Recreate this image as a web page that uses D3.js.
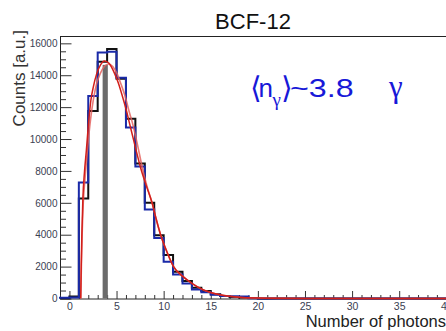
<!DOCTYPE html>
<html>
<head>
<meta charset="utf-8">
<script src="https://cdn.jsdelivr.net/npm/d3@7"></script>
<style>
  html, body { margin: 0; padding: 0; background: #fff; }
  svg { display: block; font-family: "Liberation Sans", Arial, Helvetica, sans-serif; }
</style>
</head>
<body>
<div id="chart"></div>
<script>
// bin low edges (bin width 1)
const binEdges = d3.range(-1, 40);

// black histogram
const countsBlack = [20, 130, 6270, 11750, 14840, 15640, 13780, 11270, 8470, 6000,
  3970, 2720, 1670, 1090, 680, 470, 260, 150, 90, 60,
  30, 0, 0, 0, 0, 0, 0, 0, 0, 0, 0, 0, 0, 0, 0, 0, 0, 0, 0, 0, 0];

// blue histogram
const countsBlue = [50, 60, 7280, 12690, 15430, 15470, 13840, 10730, 8270, 5580,
  3800, 2300, 1500, 940, 560, 390, 230, 150, 140, 130,
  20, 0, 0, 0, 0, 0, 0, 0, 0, 0, 0, 0, 0, 0, 0, 0, 0, 0, 0, 0, 0];

// fit curves
const fitDarkX = [1.2, 1.25, 1.32, 1.43, 1.6, 1.8, 2.0, 2.27, 2.55, 2.9, 3.3, 3.72, 4.2, 4.8, 5.2, 5.64, 6.0, 6.38, 6.99, 7.6, 8.2, 8.77, 9.2, 9.65, 10.3, 11.05, 12, 13, 14, 15, 16, 17, 18, 20, 22, 25, 30, 40];
const fitDarkY = [0, 2000, 4000, 6300, 7950, 9300, 10800, 12400, 13300, 14100, 14650, 14900, 14750, 14100, 13500, 12650, 11900, 10980, 9510, 8100, 7000, 6000, 5000, 4050, 3000, 2000, 1400, 950, 600, 380, 230, 140, 80, 30, 10, 3, 0, 0];

const fitLightX = [1.2, 1.27, 1.35, 1.47, 1.65, 1.85, 2.05, 2.3, 2.55, 2.9, 3.27, 3.7, 4.15, 4.6, 5.05, 5.5, 5.93, 6.3, 6.7, 7.27, 7.7, 8.2, 8.77, 9.2, 9.65, 10.3, 11.05, 12, 13, 14, 15, 16, 17, 18, 20, 22, 25, 30, 40];
const fitLightY = [0, 2000, 4000, 6000, 7500, 8900, 10200, 11500, 12500, 13500, 14100, 14550, 14700, 14550, 14100, 13400, 12650, 11800, 10980, 9510, 8300, 7100, 6000, 5000, 4050, 3000, 2000, 1400, 950, 600, 380, 230, 140, 80, 30, 10, 3, 0, 0];

// mean marker
const meanPhotons = 3.8;
const meanHeight = 14650;

const xMajor = [0, 5, 10, 15, 20, 25, 30, 35, 40];
const yMajor = [0, 2000, 4000, 6000, 8000, 10000, 12000, 14000, 16000];

const W = 446, H = 331;
const frame = {left: 60, top: 36, right: 446.3, bottom: 298.5};

const svg = d3.select('#chart').append('svg')
  .attr('width', W)
  .attr('height', H);

const x = d3.scaleLinear().domain([-1, 40]).range([frame.left, frame.right]);
const y = d3.scaleLinear().domain([0, 16460]).range([frame.bottom, frame.top]);

// frame
svg.append('rect')
  .attr('x', frame.left + 0.5)
  .attr('y', frame.top + 0.5)
  .attr('width', frame.right - frame.left)
  .attr('height', frame.bottom - frame.top)
  .attr('fill', 'none')
  .attr('stroke', '#222')
  .attr('stroke-width', 1);

// y axis: major + minor ticks pointing inward
const yAxis = svg.append('g')
  .attr('transform', `translate(${frame.left + 0.5},0)`)
  .call(d3.axisLeft(y).tickValues(yMajor).tickSize(-11).tickPadding(3).tickFormat(d3.format('d')));
yAxis.select('.domain').remove();
yAxis.selectAll('text').attr('font-size', 10).attr('fill', '#3a4152').attr('font-family', null);
yAxis.selectAll('line').attr('stroke', '#333');

const yMinor = svg.append('g')
  .attr('transform', `translate(${frame.left + 0.5},0)`)
  .call(d3.axisLeft(y).tickValues(d3.range(0, 16400, 500).filter(v => v % 2000 !== 0)).tickSize(-5.5).tickFormat(''));
yMinor.select('.domain').remove();
yMinor.selectAll('line').attr('stroke', '#333');

// x axis
const xAxis = svg.append('g')
  .attr('transform', `translate(0,${frame.bottom + 0.5})`)
  .call(d3.axisBottom(x).tickValues(xMajor).tickSize(-8).tickPadding(4).tickFormat(d3.format('d')));
xAxis.select('.domain').remove();
xAxis.selectAll('text').attr('font-size', 10.5).attr('fill', '#3a4152').attr('font-family', null);
xAxis.selectAll('line').attr('stroke', '#333');

const xMinor = svg.append('g')
  .attr('transform', `translate(0,${frame.bottom + 0.5})`)
  .call(d3.axisBottom(x).tickValues(d3.range(-1, 41).filter(v => v % 5 !== 0)).tickSize(-4).tickFormat(''));
xMinor.select('.domain').remove();
xMinor.selectAll('line').attr('stroke', '#333');

// step outline of a histogram
function stepPath(counts) {
  const pts = [[x(binEdges[0]), y(0)]];
  binEdges.forEach((e, i) => {
    pts.push([x(e), y(counts[i])]);
    pts.push([x(e + 1), y(counts[i])]);
  });
  pts.push([x(binEdges[binEdges.length - 1] + 1), y(0)]);
  return d3.line()(pts);
}

svg.append('path')
  .attr('d', stepPath(countsBlack))
  .attr('fill', 'none')
  .attr('stroke', '#111')
  .attr('stroke-width', 2);

svg.append('path')
  .attr('d', stepPath(countsBlue))
  .attr('fill', 'none')
  .attr('stroke', '#1a2aa8')
  .attr('stroke-width', 2);

// mean bar
svg.append('rect')
  .attr('x', x(meanPhotons) - 2.6)
  .attr('y', y(meanHeight))
  .attr('width', 5.2)
  .attr('height', y(0) - y(meanHeight))
  .attr('fill', '#6b6b6b');

// fit curves
const fitLine = d3.line()
  .x(d => x(d[0]))
  .y(d => y(d[1]))
  .curve(d3.curveMonotoneX);

svg.append('path')
  .attr('d', fitLine(fitLightX.map((v, i) => [v, fitLightY[i]])))
  .attr('fill', 'none')
  .attr('stroke', '#e4625e')
  .attr('stroke-opacity', 0.85)
  .attr('stroke-width', 1.6);

svg.append('path')
  .attr('d', fitLine(fitDarkX.map((v, i) => [v, fitDarkY[i]])))
  .attr('fill', 'none')
  .attr('stroke', '#d21f1a')
  .attr('stroke-width', 1.5);

// title
svg.append('text')
  .attr('x', 253)
  .attr('y', 28.5)
  .attr('text-anchor', 'middle')
  .attr('font-size', 22)
  .attr('fill', '#111')
  .text('BCF-12');

// axis titles
svg.append('text')
  .attr('transform', 'translate(25,30) rotate(-90)')
  .attr('text-anchor', 'end')
  .attr('font-size', 17)
  .attr('fill', '#333')
  .text('Counts [a.u.]');

svg.append('text')
  .attr('x', 446)
  .attr('y', 327)
  .attr('text-anchor', 'end')
  .attr('font-size', 16.5)
  .attr('fill', '#222')
  .text('Number of photons');

// annotation <n_gamma> ~ 3.8 gamma
const note = svg.append('text').attr('fill', '#1818d8').attr('font-size', 26);
note.append('tspan').attr('x', 250).attr('y', 98)
  .attr('font-size', 30).attr('font-family', 'DejaVu Sans').attr('font-weight', 200)
  .text('\u27E8');
note.append('tspan').attr('x', 258.5).attr('y', 96.7).text('n');
note.append('tspan').attr('x', 272.5).attr('y', 106).attr('font-size', 19)
  .attr('font-family', '"Liberation Serif", serif').text('\u03B3');
note.append('tspan').attr('x', 281).attr('y', 98)
  .attr('font-size', 30).attr('font-family', 'DejaVu Sans').attr('font-weight', 200)
  .text('\u27E9');

svg.append('text')
  .attr('transform', 'translate(290,96.7) scale(1.24,1)')
  .attr('fill', '#1818d8')
  .attr('font-size', 26)
  .text('~3.8');

svg.append('text')
  .attr('x', 389)
  .attr('y', 96.7)
  .attr('fill', '#1818d8')
  .attr('font-size', 31)
  .attr('font-family', '"Liberation Serif", serif')
  .text('\u03B3');
</script>
</body>
</html>
